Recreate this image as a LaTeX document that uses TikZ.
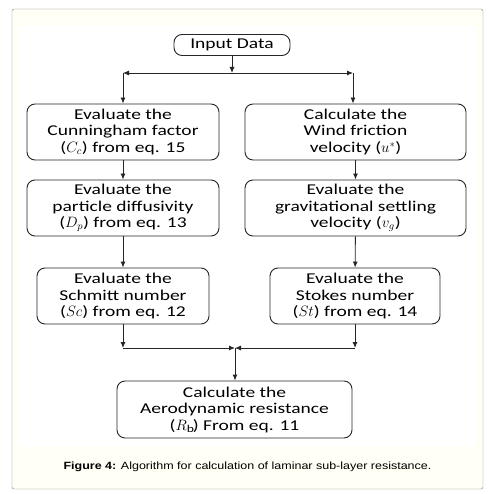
\documentclass[tikz,border=0pt]{standalone}
\usepackage{fix-cm}
\usepackage{fontspec}
\setmainfont{Carlito}[FakeStretch=1.3]
\newfontfamily\capfont{Liberation Sans}[FakeStretch=1.19]
\usetikzlibrary{arrows.meta,positioning}

\begin{document}
\begin{tikzpicture}[x=1pt,y=-1pt,
    box/.style={draw=black!85, line width=0.9pt, rounded corners=8pt, align=center, inner sep=0pt, font=\fontsize{15}{16.5}\selectfont},
    conn/.style={draw=black!85, line width=0.9pt, -{Latex[length=6pt,width=5pt]}}]
    \useasboundingbox (0,0) rectangle (489,494);
    \draw[gray, fill={rgb,255:red,255;green,255;blue,245}, rounded corners=2pt] (12,9) rectangle (483,489);
    \fill[white] (18,26) rectangle (476,447);

    \node[box, minimum width=116pt, minimum height=21pt] (input) at (232,45) {Input Data};

    \node[box, minimum width=192pt, minimum height=56pt] (cunn) at (123,132) {Evaluate the\\Cunningham factor\\($C_c$) from eq. 15};
    \node[box, minimum width=221pt, minimum height=56pt] (wind) at (355.5,132) {Calculate the\\Wind friction\\velocity ($u^{*}$)};

    \node[box, minimum width=192pt, minimum height=56pt] (diff) at (123,208) {Evaluate the\\particle diffusivity\\($D_p$) from eq. 13};
    \node[box, minimum width=221pt, minimum height=56pt] (grav) at (355.5,208) {Evaluate the\\gravitational settling\\velocity ($v_g$)};

    \node[box, minimum width=172pt, minimum height=56pt] (schm) at (123,296) {Evaluate the\\Schmitt number\\($Sc$) from eq. 12};
    \node[box, minimum width=170pt, minimum height=56pt] (stok) at (355,296) {Evaluate the\\Stokes number\\($St$) from eq. 14};

    \node[box, minimum width=235pt, minimum height=57pt] (aero) at (234.5,409.5) {Calculate the\\Aerodynamic resistance\\($R_\mathrm{b}$) From eq. 11};

    \coordinate (split) at (232,73);
    \coordinate (tl) at (123,73);
    \coordinate (tr) at (353,73);
    \coordinate (bl) at (123,348);
    \coordinate (br) at (355,348);
    \coordinate (merge) at (235,348);

    \draw[conn] (input) -- (split);
    \draw[conn] (split) -- (tl);
    \draw[conn] (split) -- (tr);
    \draw[conn] (tl) -- (cunn.north);
    \draw[conn] (tr) -- (tr |- wind.north);
    \draw[conn] (cunn) -- (diff);
    \draw[conn] (wind) -- (grav);
    \draw[conn] (diff) -- (schm);
    \draw[conn] (grav) -- (stok);
    \draw[conn] (schm) -- (bl);
    \draw[conn] (stok) -- (br);
    \draw[conn] (bl) -- (merge);
    \draw[conn] (br) -- (merge);
    \draw[conn] (merge) -- (merge |- aero.north);

    \node[font=\capfont\fontsize{10.5}{12}\selectfont] (caption) at (247.5,467) {\textbf{Figure 4:} Algorithm for calculation of laminar sub-layer resistance.};
\end{tikzpicture}
\end{document}
